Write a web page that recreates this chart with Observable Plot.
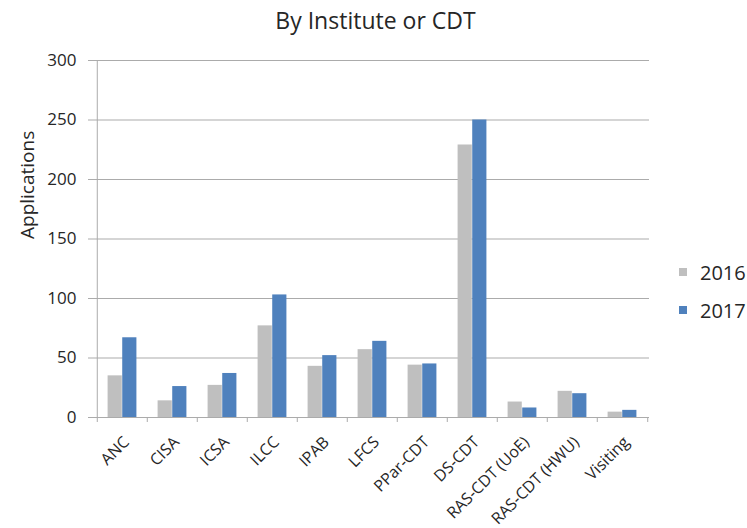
<!DOCTYPE html>
<html>
<head>
<meta charset="utf-8">
<script src="https://cdn.jsdelivr.net/npm/d3@7"></script>
<script src="https://cdn.jsdelivr.net/npm/@observablehq/plot@0.6"></script>
<style>
  html, body { margin: 0; padding: 0; background: #fff; }
  #wrap { position: relative; width: 747px; height: 528px; font-family: "Open Sans", Lato, sans-serif; color: #262626; }
  #title { height: 40px; line-height: 40px; text-align: center; font-size: 23px; padding-left: 4px; }
  .legend { position: absolute; left: 679px; font-size: 20px; display: flex; align-items: center; height: 24px; }
  .legend span.sw { display: inline-block; width: 8px; height: 8px; margin-right: 13px; }
</style>
</head>
<body>
<div id="wrap">
  <div id="title">By Institute or CDT</div>
  <div id="chart"></div>
</div>
<script>
const categories = ["ANC", "CISA", "ICSA", "ILCC", "IPAB", "LFCS", "PPar-CDT", "DS-CDT", "RAS-CDT (UoE)", "RAS-CDT (HWU)", "Visiting"];
const values2016 = [35, 14, 27, 77, 43, 57, 44, 229, 13, 22, 4.5];
const values2017 = [67, 26, 37, 103, 52, 64, 45, 250, 8, 20, 6];
const years = ["2016", "2017"];
const colors = ["#bfbfbf", "#4f81bd"];
const yTicks = [0, 50, 100, 150, 200, 250, 300];

const W = 747, H = 488, mL = 94, mR = 98, mT = 20, mB = 111;
const step = (W - mL - mR) / categories.length;
const bw = step * 0.29;

const d16 = categories.map((c, i) => ({category: c, value: values2016[i]}));
const d17 = categories.map((c, i) => ({category: c, value: values2017[i]}));
const gridColor = "#ababab";

const chart = Plot.plot({
  width: W, height: H,
  marginLeft: mL, marginRight: mR, marginTop: mT, marginBottom: mB,
  style: {fontFamily: "'Open Sans', Lato, sans-serif", fontSize: "17px", color: "#262626", background: "#fff", overflow: "visible"},
  x: {type: "band", domain: categories, padding: 0, axis: null},
  y: {domain: [0, 300]},
  marks: [
    Plot.gridY({ticks: yTicks, stroke: gridColor, strokeOpacity: 1}),
    Plot.ruleX([categories[0]], {dx: -step / 2, stroke: gridColor}),
    Plot.barY(d16, {x: "category", y: "value", fill: colors[0], insetLeft: step / 2 - bw, insetRight: step / 2}),
    Plot.barY(d17, {x: "category", y: "value", fill: colors[1], insetLeft: step / 2, insetRight: step / 2 - bw}),
    Plot.ruleY([0], {stroke: gridColor}),
    Plot.ruleX(categories, {x: d => d, y1: 0, y2: 0, dx: -step / 2, insetBottom: -5, stroke: gridColor}),
    Plot.ruleX([categories[categories.length - 1]], {x: d => d, y1: 0, y2: 0, dx: step / 2, insetBottom: -5, stroke: gridColor}),
    Plot.axisY({ticks: yTicks, tickSize: 6, tickPadding: 12, stroke: gridColor, label: null, fontSize: 17}),
    Plot.text(categories, {x: d => d, frameAnchor: "bottom", rotate: -45, textAnchor: "end", lineAnchor: "middle", dx: 4, dy: 22, fontSize: 16, fill: "#262626"}),
    Plot.text(["Applications"], {frameAnchor: "left", rotate: -90, dx: -67, fontSize: 19})
  ]
});
document.getElementById("chart").appendChild(chart);

const wrap = document.getElementById("wrap");
years.forEach((yr, i) => {
  const div = document.createElement("div");
  div.className = "legend";
  div.style.top = (260 + i * 38) + "px";
  div.innerHTML = `<span class="sw" style="background:${colors[i]}"></span>${yr}`;
  wrap.appendChild(div);
});
</script>
</body>
</html>
